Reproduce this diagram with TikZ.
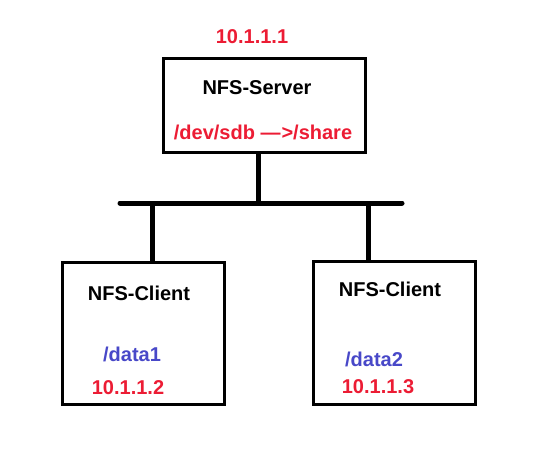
\documentclass[tikz,border=0pt]{standalone}
\usepackage{fontspec}
\setmainfont{Liberation Sans}
\definecolor{ipred}{RGB}{236,28,52}
\definecolor{dirblue}{RGB}{72,72,200}
\begin{document}
\begin{tikzpicture}[x=1pt,y=-1pt,
  box/.style={draw=black,line width=3pt,inner sep=0pt},
  lbl/.style={font=\bfseries\fontsize{20}{22}\selectfont,inner sep=0pt,anchor=center},
  bus/.style={line width=5pt}]
\useasboundingbox (0,0) rectangle (535,467);
\node[box,minimum width=202pt,minimum height=94pt] (srv) at (264,105) {};
\node[box,minimum width=162pt,minimum height=142pt] (c1) at (143,333) {};
\node[box,minimum width=162pt,minimum height=143pt] (c2) at (394,332.5) {};
% texts
\node[lbl,text=ipred] (ip0) at (252,37) {10.1.1.1};
\node[lbl] (srvname) at (257,88) {NFS-Server};
\node[lbl,text=ipred] (share) at (263,132) {/dev/sdb\ —\kern0.05em>/share};
\node[lbl] (c1name) at (139,293) {NFS-Client};
\node[lbl,text=dirblue] (d1) at (132,354) {/data1};
\node[lbl,text=ipred] (ip1) at (128,388) {10.1.1.2};
\node[lbl] (c2name) at (390,289) {NFS-Client};
\node[lbl,text=dirblue] (d2) at (374,359) {/data2};
\node[lbl,text=ipred] (ip2) at (378,387) {10.1.1.3};
% bus
\coordinate (busL) at (120,203);
\coordinate (busR) at (402,203);
\coordinate (bs) at (258,203);
\coordinate (b1) at (152,203);
\coordinate (b2) at (368,203);
\draw[bus,line cap=round] (busL) -- (busR);
\draw[bus] (bs) -- (bs |- srv.south);
\draw[bus] (b1) -- (b1 |- c1.north);
\draw[bus] (b2) -- (b2 |- c2.north);
\end{tikzpicture}
\end{document}
